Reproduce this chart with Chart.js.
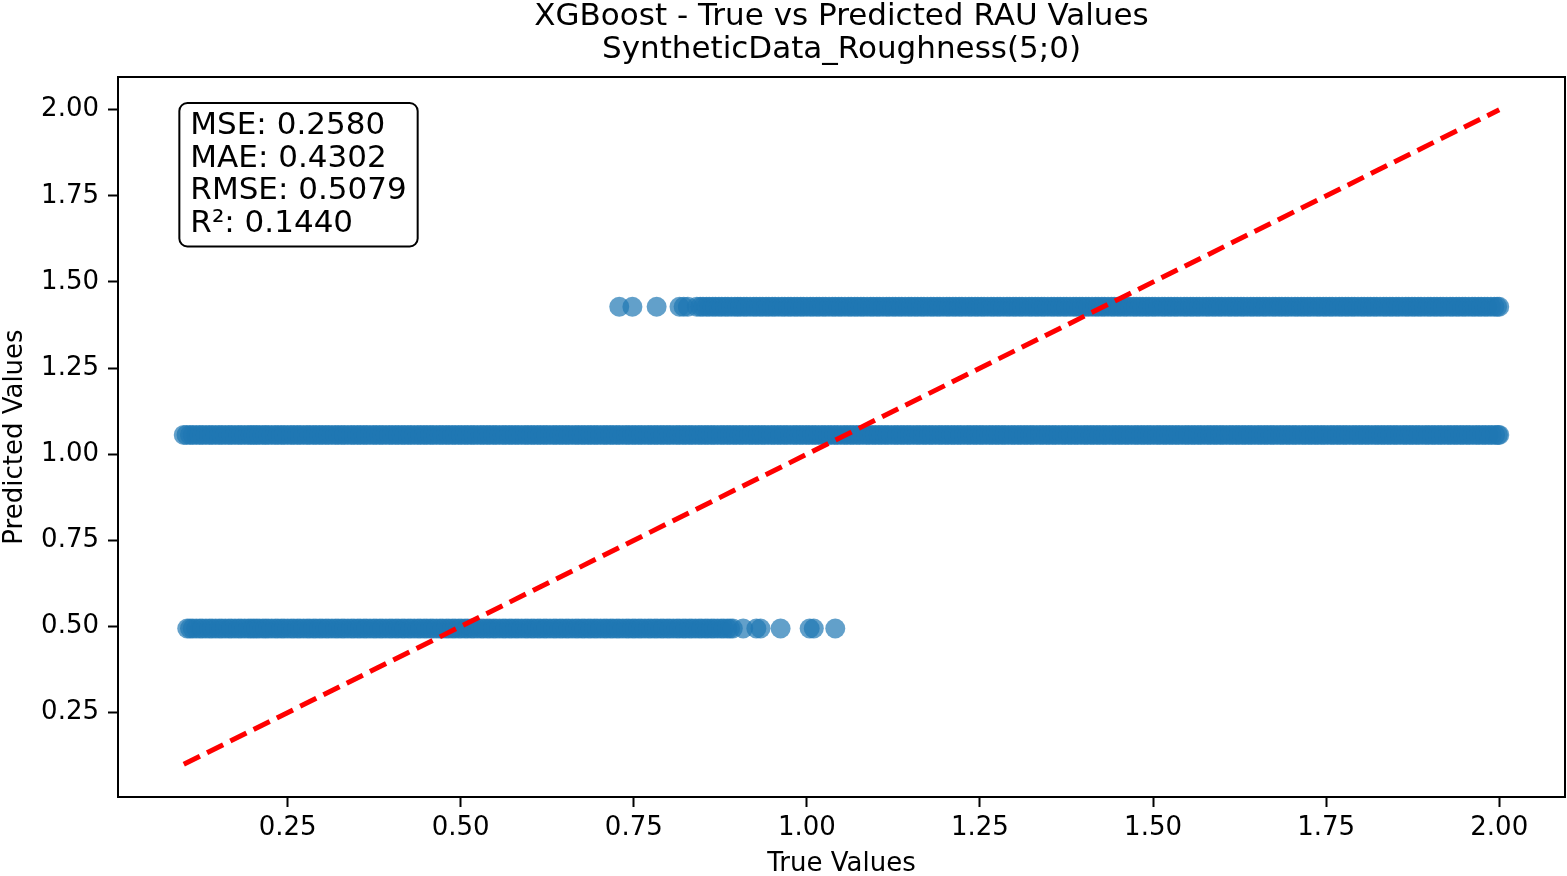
<!DOCTYPE html>
<html>
<head>
<meta charset="utf-8">
<script src="https://cdn.jsdelivr.net/npm/chart.js@4.4.1/dist/chart.umd.min.js"></script>
<style>
  body { margin: 0; background: #fff; }
  #wrap { width: 1567px; height: 876px; position: relative; }
</style>
</head>
<body>
<div id="wrap"><canvas id="myChart"></canvas></div>
<script>
// predicted value of each horizontal band
const predLow = 0.494;
const predMid = 1.056;
const predHigh = 1.428;

// true values of the points sitting in each band (dense, they overlap into solid bars)
const trueLow = [
  0.105,0.109,0.113,0.118,0.123,0.127,0.132,0.137,0.141,0.146,0.151,0.155,0.160,0.165,0.169,0.174,0.179,0.183,0.188,0.193,0.197,
  0.201,0.205,0.209,0.214,0.218,0.222,0.227,0.232,0.236,0.241,0.245,0.250,0.255,0.259,0.264,0.268,0.273,0.278,0.282,0.287,0.291,0.296,
  0.300,0.305,0.309,0.314,0.319,0.323,0.328,0.332,0.337,0.342,0.346,0.351,0.355,0.360,0.364,0.369,0.374,0.378,0.383,0.387,0.392,0.397,
  0.401,0.406,0.410,0.415,0.419,0.424,0.428,0.433,0.438,0.442,0.447,0.451,0.456,0.460,0.465,0.470,0.474,0.479,0.483,0.488,0.492,0.497,
  0.501,0.506,0.510,0.515,0.519,0.524,0.529,0.533,0.538,0.542,0.547,0.551,0.556,0.561,0.565,0.570,0.574,0.579,0.583,0.588,0.593,0.597,
  0.602,0.606,0.611,0.615,0.620,0.624,0.629,0.634,0.638,0.643,0.647,0.652,0.656,0.661,0.666,0.670,0.675,0.679,0.684,0.688,0.693,0.697,
  0.702,0.707,0.711,0.716,0.720,0.725,0.729,0.734,0.739,0.743,0.748,0.752,0.757,0.761,0.766,0.771,0.775,0.780,0.784,0.789,0.793,0.798,
  0.802,0.807,0.812,0.816,0.821,0.825,0.830,0.834,0.839,0.844,0.848,0.853,0.857,0.862,0.866,0.871,0.876,0.880,0.885,0.889,0.893,
  0.908,0.927,0.933,0.962,1.004,1.010,1.041
];

const trueMid = [
  0.100,0.104,0.109,0.113,0.118,0.123,0.127,0.132,0.137,0.141,0.146,0.151,0.155,0.160,0.165,0.169,0.174,0.179,0.183,0.188,0.193,0.197,
  0.201,0.205,0.209,0.214,0.218,0.222,0.227,0.232,0.236,0.241,0.245,0.250,0.255,0.259,0.264,0.268,0.273,0.278,0.282,0.287,0.291,0.296,
  0.300,0.305,0.309,0.314,0.319,0.323,0.328,0.332,0.337,0.342,0.346,0.351,0.355,0.360,0.364,0.369,0.374,0.378,0.383,0.387,0.392,0.397,
  0.401,0.406,0.410,0.415,0.419,0.424,0.428,0.433,0.438,0.442,0.447,0.451,0.456,0.460,0.465,0.470,0.474,0.479,0.483,0.488,0.492,0.497,
  0.501,0.506,0.510,0.515,0.519,0.524,0.529,0.533,0.538,0.542,0.547,0.551,0.556,0.561,0.565,0.570,0.574,0.579,0.583,0.588,0.593,0.597,
  0.602,0.606,0.611,0.615,0.620,0.624,0.629,0.634,0.638,0.643,0.647,0.652,0.656,0.661,0.666,0.670,0.675,0.679,0.684,0.688,0.693,0.697,
  0.702,0.707,0.711,0.716,0.720,0.725,0.729,0.734,0.739,0.743,0.748,0.752,0.757,0.761,0.766,0.771,0.775,0.780,0.784,0.789,0.793,0.798,
  0.802,0.807,0.812,0.816,0.821,0.825,0.830,0.834,0.839,0.844,0.848,0.853,0.857,0.862,0.866,0.871,0.876,0.880,0.885,0.889,0.894,0.898,
  0.903,0.907,0.912,0.917,0.921,0.926,0.930,0.935,0.939,0.944,0.949,0.953,0.958,0.962,0.967,0.971,0.976,0.981,0.985,0.990,0.994,0.999,
  1.003,1.008,1.012,1.017,1.022,1.026,1.031,1.035,1.040,1.044,1.049,1.054,1.058,1.063,1.067,1.072,1.076,1.081,1.086,1.090,1.095,1.099,
  1.104,1.108,1.113,1.117,1.122,1.127,1.131,1.136,1.140,1.145,1.149,1.154,1.159,1.163,1.168,1.172,1.177,1.181,1.186,1.191,1.195,1.200,
  1.204,1.209,1.213,1.218,1.222,1.227,1.232,1.236,1.241,1.245,1.250,1.254,1.259,1.264,1.268,1.273,1.277,1.282,1.286,1.291,1.296,1.300,
  1.305,1.309,1.314,1.318,1.323,1.327,1.332,1.337,1.341,1.346,1.350,1.355,1.359,1.364,1.369,1.373,1.378,1.382,1.387,1.391,1.396,1.401,
  1.405,1.410,1.414,1.419,1.423,1.428,1.432,1.437,1.442,1.446,1.451,1.455,1.460,1.464,1.469,1.474,1.478,1.483,1.487,1.492,1.496,
  1.501,1.506,1.510,1.515,1.519,1.524,1.528,1.533,1.537,1.542,1.547,1.551,1.556,1.560,1.565,1.569,1.574,1.579,1.583,1.588,1.592,1.597,
  1.601,1.606,1.611,1.615,1.620,1.624,1.629,1.633,1.638,1.642,1.647,1.652,1.656,1.661,1.665,1.670,1.674,1.679,1.684,1.688,1.693,1.697,
  1.702,1.706,1.711,1.716,1.720,1.725,1.729,1.734,1.738,1.743,1.747,1.752,1.757,1.761,1.766,1.770,1.775,1.779,1.784,1.789,1.793,1.798,
  1.802,1.807,1.811,1.816,1.821,1.825,1.830,1.834,1.839,1.843,1.848,1.852,1.857,1.862,1.866,1.871,1.875,1.880,1.884,1.889,1.894,1.898,
  1.903,1.907,1.912,1.916,1.921,1.926,1.930,1.935,1.939,1.944,1.948,1.953,1.957,1.962,1.967,1.971,1.976,1.980,1.985,1.989,1.994,1.998,2.000
];

const trueHigh = [
  0.729,0.748,0.783,0.816,0.822,0.828,
  0.841,0.846,0.850,0.855,0.859,0.864,0.868,0.873,0.877,0.882,0.886,0.891,0.896,0.900,
  0.904,0.909,0.913,0.918,0.923,0.927,0.932,0.936,0.941,0.945,0.950,0.954,0.959,0.964,0.968,0.973,0.977,0.982,0.986,0.991,0.995,
  1.000,1.005,1.009,1.014,1.018,1.023,1.027,1.032,1.037,1.041,1.046,1.050,1.055,1.060,1.064,1.069,1.073,1.078,1.082,1.087,1.092,1.096,
  1.101,1.105,1.110,1.115,1.119,1.124,1.128,1.133,1.137,1.142,1.147,1.151,1.156,1.160,1.165,1.169,1.174,1.179,1.183,1.188,1.192,1.197,
  1.202,1.206,1.211,1.215,1.220,1.224,1.229,1.234,1.238,1.243,1.247,1.252,1.256,1.261,1.266,1.270,1.275,1.279,1.284,1.289,1.293,1.298,
  1.302,1.307,1.311,1.316,1.321,1.325,1.330,1.334,1.339,1.343,1.348,1.353,1.357,1.362,1.366,1.371,1.375,1.380,1.385,1.389,1.394,1.398,
  1.403,1.407,1.412,1.417,1.421,1.426,1.430,1.435,1.440,1.444,1.449,1.453,1.458,1.462,1.467,1.472,1.476,1.481,1.485,1.490,1.494,1.499,
  1.503,1.508,1.513,1.517,1.522,1.526,1.531,1.535,1.540,1.545,1.549,1.554,1.558,1.563,1.567,1.572,1.577,1.581,1.586,1.590,1.595,1.599,
  1.604,1.609,1.613,1.618,1.622,1.627,1.631,1.636,1.641,1.645,1.650,1.654,1.659,1.663,1.668,1.673,1.677,1.682,1.686,1.691,1.695,
  1.700,1.705,1.709,1.714,1.718,1.723,1.727,1.732,1.737,1.741,1.746,1.750,1.755,1.759,1.764,1.769,1.773,1.778,1.782,1.787,1.791,1.796,
  1.801,1.805,1.810,1.814,1.819,1.823,1.828,1.833,1.837,1.842,1.846,1.851,1.855,1.860,1.865,1.869,1.874,1.878,1.883,1.887,1.892,1.897,
  1.901,1.906,1.910,1.915,1.919,1.924,1.929,1.933,1.938,1.942,1.947,1.951,1.956,1.961,1.965,1.970,1.974,1.979,1.983,1.988,1.993,1.997,2.000
];

// ideal y = x line ends
const idealLine = [0.1, 2.0];

const tickValues = [0.25, 0.50, 0.75, 1.00, 1.25, 1.50, 1.75, 2.00];
const axisMin = 0.005;
const axisMax = 2.095;

const titleLines = ['XGBoost - True vs Predicted RAU Values', 'SyntheticData_Roughness(5;0)'];
const statLabels = ['MSE', 'MAE', 'RMSE', 'R\u00b2'];
const statValues = [0.2580, 0.4302, 0.5079, 0.1440];

const FONT = "'DejaVu Sans', sans-serif";

const points = [];
trueLow.forEach(x => points.push({ x: x, y: predLow }));
trueMid.forEach(x => points.push({ x: x, y: predMid }));
trueHigh.forEach(x => points.push({ x: x, y: predHigh }));

// title centred over the plot area, like matplotlib does
const titlePlugin = {
  id: 'axTitle',
  afterDraw(chart) {
    const { ctx, chartArea: a } = chart;
    ctx.save();
    ctx.font = '31px ' + FONT;
    ctx.fillStyle = '#000';
    ctx.textAlign = 'center';
    ctx.textBaseline = 'middle';
    const cx = (a.left + a.right) / 2;
    titleLines.forEach((t, i) => ctx.fillText(t, cx, 17 + i * 33));
    ctx.restore();
  }
};

const framePlugin = {
  id: 'frame',
  afterDatasetsDraw(chart) {
    const { ctx, chartArea: a } = chart;
    ctx.save();
    ctx.strokeStyle = '#000';
    ctx.lineWidth = 2;
    ctx.strokeRect(a.left, a.top, a.right - a.left, a.bottom - a.top);
    ctx.restore();
  }
};

const statsPlugin = {
  id: 'statsBox',
  afterDraw(chart) {
    const { ctx, chartArea: a } = chart;
    const w = a.right - a.left, h = a.bottom - a.top;
    const tx = a.left + 0.05 * w;
    const capTop = a.top + 0.05 * h;
    const lineStep = 32.5;
    ctx.save();
    ctx.font = '31px ' + FONT;
    const lines = statLabels.map((l, i) => l + ': ' + statValues[i].toFixed(4));
    const maxW = Math.max(...lines.map(l => ctx.measureText(l).width));
    const x0 = tx - 11, y0 = capTop - 10;
    const x1 = tx + maxW + 11, y1 = capTop + 21 + lineStep * 3 + 15;
    const r = 8;
    ctx.beginPath();
    ctx.moveTo(x0 + r, y0);
    ctx.arcTo(x1, y0, x1, y1, r);
    ctx.arcTo(x1, y1, x0, y1, r);
    ctx.arcTo(x0, y1, x0, y0, r);
    ctx.arcTo(x0, y0, x1, y0, r);
    ctx.closePath();
    ctx.fillStyle = '#fff';
    ctx.fill();
    ctx.lineWidth = 2;
    ctx.strokeStyle = '#000';
    ctx.stroke();
    ctx.fillStyle = '#000';
    ctx.textBaseline = 'alphabetic';
    lines.forEach((l, i) => ctx.fillText(l, tx, capTop + 21 + i * lineStep));
    ctx.restore();
  }
};

const axisCommon = {
  type: 'linear',
  min: axisMin,
  max: axisMax,
  border: { display: false },
  grid: { drawOnChartArea: false, drawTicks: true, tickLength: 10, tickWidth: 2, tickColor: '#000' },
  afterBuildTicks: (scale) => { scale.ticks = tickValues.map(v => ({ value: v })); }
};

const ctx = document.getElementById('myChart').getContext('2d');
new Chart(ctx, {
  type: 'scatter',
  data: {
    datasets: [
      {
        type: 'line',
        data: idealLine.map(v => ({ x: v, y: v })),
        borderColor: '#ff0000',
        borderWidth: 5,
        borderDash: [18, 8],
        pointRadius: 0,
        fill: false
      },
      {
        data: points,
        backgroundColor: 'rgba(31, 119, 180, 0.7)',
        borderColor: 'rgba(31, 119, 180, 0.7)',
        borderWidth: 0,
        pointRadius: 10,
        pointHoverRadius: 10
      }
    ]
  },
  options: {
    responsive: true,
    maintainAspectRatio: false,
    animation: false,
    layout: { autoPadding: false, padding: { top: 77, right: 2, bottom: 0, left: 0 } },
    plugins: {
      legend: { display: false },
      tooltip: { enabled: false },
      title: { display: false }
    },
    scales: {
      x: Object.assign({}, axisCommon, {
        ticks: { color: '#000', padding: 6, font: { family: FONT, size: 26 }, maxRotation: 0, callback: v => v.toFixed(2) },
        title: { display: true, text: 'True Values', color: '#000', font: { family: FONT, size: 26, lineHeight: 1.0 }, padding: { top: 0, bottom: -1 } },
        afterFit: (scale) => { scale.height = 79; scale.paddingLeft = 0; scale.paddingRight = 0; }
      }),
      y: Object.assign({}, axisCommon, {
        ticks: { color: '#000', padding: 9, font: { family: FONT, size: 26 }, callback: v => v.toFixed(2) },
        title: { display: true, text: 'Predicted Values', color: '#000', font: { family: FONT, size: 26 }, padding: 0 },
        afterFit: (scale) => { scale.width = 118; scale.paddingTop = 0; scale.paddingBottom = 0; }
      })
    }
  },
  plugins: [framePlugin, statsPlugin, titlePlugin]
});
</script>
</body>
</html>
